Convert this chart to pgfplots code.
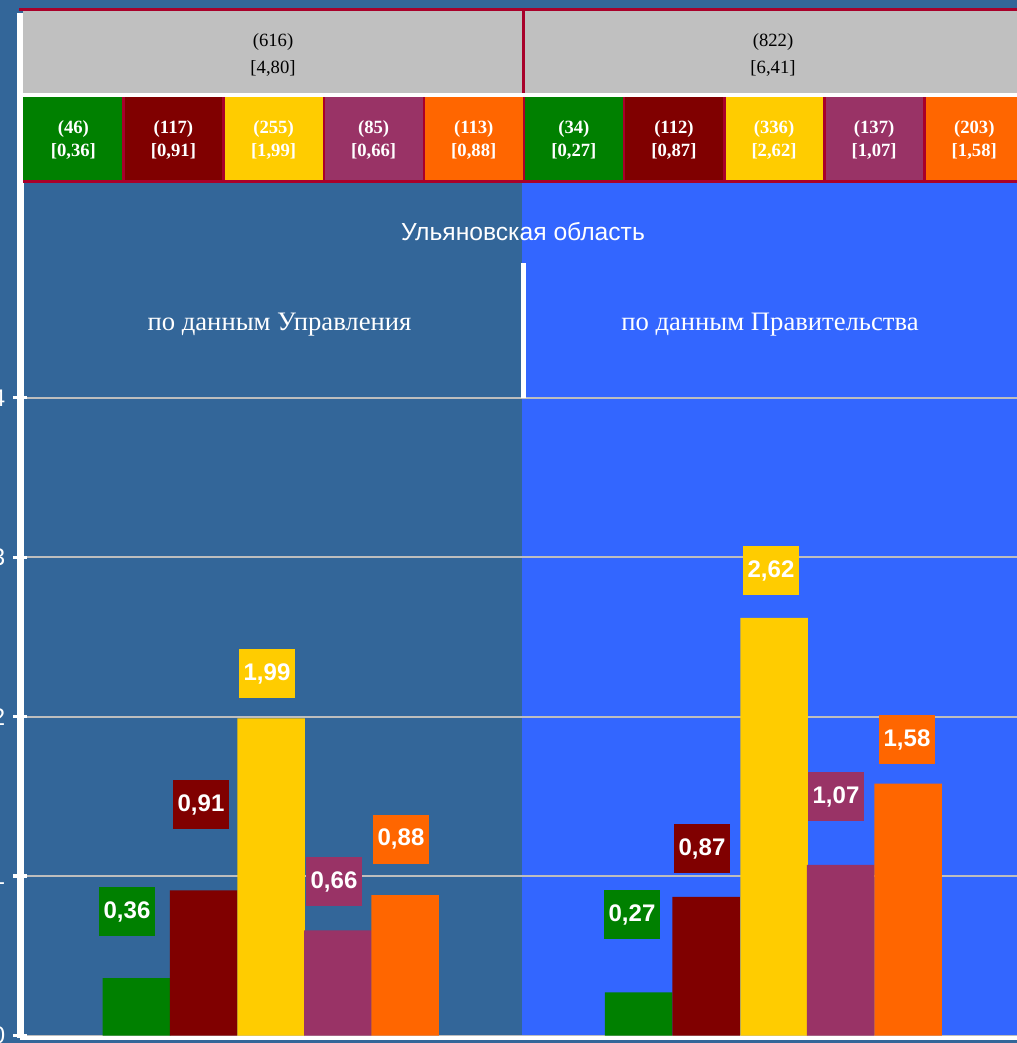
\documentclass[border=0pt]{standalone}
\usepackage{pgfplots}
\pgfplotsset{compat=1.18}
\usepackage{pgfplotstable}
\usepackage{fontspec}
\setmainfont{Liberation Serif}
\setsansfont{Liberation Sans}

\definecolor{bgA}{HTML}{336699}
\definecolor{bgB}{HTML}{3366FF}
\definecolor{cG}{HTML}{008000}
\definecolor{cR}{HTML}{800000}
\definecolor{cY}{HTML}{FFCC00}
\definecolor{cP}{HTML}{993366}
\definecolor{cO}{HTML}{FF6600}
\definecolor{hdrRed}{HTML}{A8002A}
\definecolor{hdrGray}{HTML}{C0C0C0}
\definecolor{gridC}{HTML}{BEBEBE}

% x = horizontal position of bar centre, y = value, lx/ly = label box centre
\pgfplotstableread{
x y lx ly
136.5 0.36 127 0.778
638.5 0.27 632 0.759
}\tG
\pgfplotstableread{
x y lx ly
203.7 0.91 201 1.449
706.0 0.87 702 1.173
}\tR
\pgfplotstableread{
x y lx ly
271.0 1.99 267 2.271
774.0 2.62 771 2.917
}\tY
\pgfplotstableread{
x y lx ly
337.8 0.66 334 0.966
840.5 1.07 836 1.499
}\tP
\pgfplotstableread{
x y lx ly
405.0 0.88 401 1.230
908.0 1.58 907 1.857
}\tO

\tikzset{pxscope/.style={x=0.75pt, y=-0.75pt, shift={(-15.375pt,778.5pt)}}}

\pgfplotsset{
  barS/.style={ybar, bar width=67.5, bar shift=0pt, fill=#1, draw=none},
  labS/.style={draw=none, mark=none, point meta=explicit,
    nodes near coords={\pgfmathprintnumber[assume math mode=true,use comma,fixed,fixed zerofill,precision=2]{\pgfplotspointmeta}},
    nodes near coords style={anchor=center, fill=#1, text=white,
      font=\sffamily\bfseries\fontsize{18}{18}\selectfont,
      minimum width=42pt, minimum height=36.75pt, inner sep=0pt}},
}

\begin{document}
\begin{tikzpicture}
\begin{scope}[pxscope]
  \fill[bgA] (0,0) rectangle (1017,1043);
  \fill[bgB] (522,183) rectangle (1017,1038);
\end{scope}

\begin{axis}[
  scale only axis, width=747.375pt, height=768.75pt,
  xmin=20.5, xmax=1017, ymin=-0.01568, ymax=6.4147,
  axis lines*=left, axis line style={-, white},
  x axis line style={line width=3pt}, y axis line style={line width=4.9pt},
  xtick=\empty, ytick={0,1,2,3,4},
  tick align=center, major tick length=10.5pt,
  tick style={white, line width=2.4pt},
  ymajorgrids, grid style={gridC, line width=1.5pt},
  /pgf/number format/assume math mode=true,
  yticklabel style={white, font=\sffamily\fontsize{18}{18}\selectfont, inner sep=0pt, anchor=east, xshift=-6pt},
  clip=false,
]
\addplot[barS=cG] table[x=x,y=y]{\tG};
\addplot[barS=cR] table[x=x,y=y]{\tR};
\addplot[barS=cY] table[x=x,y=y]{\tY};
\addplot[barS=cP] table[x=x,y=y]{\tP};
\addplot[barS=cO] table[x=x,y=y]{\tO};
\addplot[labS=cG] table[x=lx,y=ly,meta=y]{\tG};
\addplot[labS=cR] table[x=lx,y=ly,meta=y]{\tR};
\addplot[labS=cY] table[x=lx,y=ly,meta=y]{\tY};
\addplot[labS=cP] table[x=lx,y=ly,meta=y]{\tP};
\addplot[labS=cO] table[x=lx,y=ly,meta=y]{\tO};
\end{axis}

\begin{scope}[pxscope]
  % header table
  \fill[hdrRed] (19,8.3) rectangle (1030,10.7);
  \fill[hdrGray] (23,10.7) rectangle (1030,93.3);
  \fill[hdrRed] (522,10.7) rectangle (524.7,93.3);
  \fill[white] (23,93.3) rectangle (1030,96.7);
  \foreach \k/\c in {0/cG,1/cR,2/cY,3/cP,4/cO,5/cG,6/cR,7/cY,8/cP,9/cO}{
    \fill[\c] ({23.3+100.1*\k},96.7) rectangle ({23.3+100.1*(\k+1)},180);
  }
  \foreach \k in {1,...,9}{
    \fill[hdrRed] ({22.2+100.1*\k},96.7) rectangle ({24.8+100.1*\k},180);
  }
  \fill[hdrRed] (23,180) rectangle (1030,183);
  \node[font=\fontsize{14}{20.25}\selectfont, align=center, text=black] at (273,54.5) {(616)\\{}[4,80]};
  \node[font=\fontsize{14}{20.25}\selectfont, align=center, text=black] at (773,54.5) {(822)\\{}[6,41]};
  \tikzset{hc/.style={font=\bfseries\fontsize{14}{17}\selectfont, align=center, text=white}}
  \node[hc] at ({23.3+100.1*0.5},140) {(46)\\{}[0,36]};
  \node[hc] at ({23.3+100.1*1.5},140) {(117)\\{}[0,91]};
  \node[hc] at ({23.3+100.1*2.5},140) {(255)\\{}[1,99]};
  \node[hc] at ({23.3+100.1*3.5},140) {(85)\\{}[0,66]};
  \node[hc] at ({23.3+100.1*4.5},140) {(113)\\{}[0,88]};
  \node[hc] at ({23.3+100.1*5.5},140) {(34)\\{}[0,27]};
  \node[hc] at ({23.3+100.1*6.5},140) {(112)\\{}[0,87]};
  \node[hc] at ({23.3+100.1*7.5},140) {(336)\\{}[2,62]};
  \node[hc] at ({23.3+100.1*8.5},140) {(137)\\{}[1,07]};
  \node[hc] at ({23.3+100.1*9.5},140) {(203)\\{}[1,58]};
  % titles
  \node[text=white, font=\sffamily\fontsize{18.5}{18.5}\selectfont] at (523,232) {Ульяновская область};
  \node[text=white, font=\fontsize{20}{20}\selectfont] at (279.5,325) {по данным Управления};
  \node[text=white, font=\fontsize{20}{20}\selectfont] at (770,325) {по данным Правительства};
  \fill[white] (520.5,263) rectangle (525.5,398);
  \pgfresetboundingbox
  \path[use as bounding box] (0,0) rectangle (1017,1043);
\end{scope}
\end{tikzpicture}
\end{document}
